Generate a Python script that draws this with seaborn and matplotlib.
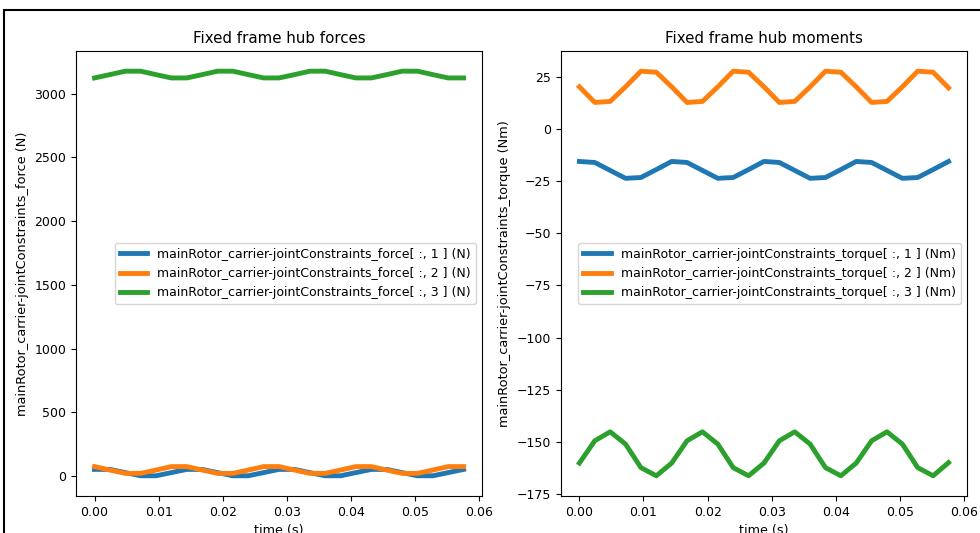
import pandas as pd
import matplotlib
matplotlib.use("Agg")
import matplotlib.pyplot as plt
from matplotlib.patches import Rectangle
import seaborn as sns

# time samples (s)
time_s = [0.0, 0.0024, 0.0048, 0.0072, 0.0096, 0.012, 0.0144, 0.0168, 0.0192,
          0.0216, 0.024, 0.0264, 0.0288, 0.0312, 0.0336, 0.036, 0.0384, 0.0408,
          0.0432, 0.0456, 0.048, 0.0504, 0.0528, 0.0552, 0.0576]

# hub forces (N)
force_1 = [53, 53, 28, 3, 3, 28, 53, 53, 28, 3, 3, 28, 53, 53, 28, 3, 3, 28,
           53, 53, 28, 3, 3, 28, 53]
force_2 = [75, 48, 22, 22, 48, 75, 75, 48, 22, 22, 48, 75, 75, 48, 22, 22, 48, 75,
           75, 48, 22, 22, 48, 75, 75]
force_3 = [3122, 3148, 3175, 3175, 3148, 3122, 3122, 3148, 3175, 3175, 3148, 3122,
           3122, 3148, 3175, 3175, 3148, 3122, 3122, 3148, 3175, 3175, 3148, 3122,
           3122]

# hub moments (Nm)
torque_1 = [-15.5, -16.0, -19.8, -23.6, -23.2, -19.4, -15.5, -16.0, -19.8, -23.6,
            -23.2, -19.4, -15.5, -16.0, -19.8, -23.6, -23.2, -19.4, -15.5, -16.0,
            -19.8, -23.6, -23.2, -19.4, -15.5]
torque_2 = [20.3, 12.8, 13.3, 20.3, 27.8, 27.3, 20.3, 12.8, 13.3, 20.3, 27.8, 27.3,
            20.3, 12.8, 13.3, 20.3, 27.8, 27.3, 20.3, 12.8, 13.3, 20.3, 27.8, 27.3,
            19.8]
torque_3 = [-160.2, -149.5, -145.2, -151.1, -162.4, -166.3, -160.2, -149.5, -145.2,
            -151.1, -162.4, -166.3, -160.2, -149.5, -145.2, -151.1, -162.4, -166.3,
            -160.2, -149.5, -145.2, -151.1, -162.4, -166.3, -160.0]


def long_form(series, name, unit):
    rows = []
    for k, vals in enumerate(series, start=1):
        label = f"mainRotor_carrier-jointConstraints_{name}[ :, {k} ] ({unit})"
        for t, v in zip(time_s, vals):
            rows.append({"time": t, "value": v, "series": label})
    return pd.DataFrame(rows)


df_force = long_form([force_1, force_2, force_3], "force", "N")
df_torque = long_form([torque_1, torque_2, torque_3], "torque", "Nm")

colors = sns.color_palette("tab10", 3)

fig = plt.figure(figsize=(9.8, 5.33), dpi=100)
ax1 = fig.add_axes([0.0776, 0.0694, 0.4143, 0.835])
ax2 = fig.add_axes([0.5724, 0.0694, 0.4143, 0.835])

panels = [
    (ax1, df_force, "Fixed frame hub forces", "mainRotor_carrier-jointConstraints_force (N)"),
    (ax2, df_torque, "Fixed frame hub moments", "mainRotor_carrier-jointConstraints_torque (Nm)"),
]

for ax, df, title, ylabel in panels:
    sns.lineplot(data=df, x="time", y="value", hue="series", palette=colors,
                 linewidth=3.5, ax=ax)
    ax.set_title(title, fontsize=10.8)
    ax.set_xlabel("time (s)", fontsize=9.2)
    ax.set_ylabel(ylabel, fontsize=9.3)
    ax.tick_params(labelsize=9)
    ax.set_xticks([0.0, 0.01, 0.02, 0.03, 0.04, 0.05, 0.06])
    leg = ax.legend(loc="center right", fontsize=9, handlelength=2.2)
    for line in leg.get_lines():
        line.set_linewidth(3.5)

# screenshot-style frame
fig.patches.append(Rectangle((4 / 980, -0.1), 1.2, (523 / 533) + 0.1,
                             transform=fig.transFigure, fill=False,
                             edgecolor="black", linewidth=1.5))

fig.savefig("out.png", dpi=100)
